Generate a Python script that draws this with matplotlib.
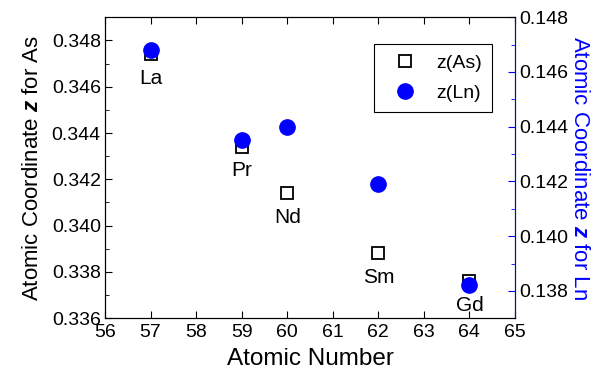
import matplotlib.pyplot as plt
from matplotlib.ticker import MultipleLocator

plt.rcParams['font.family'] = ['Liberation Sans', 'DejaVu Sans']
plt.rcParams['mathtext.fontset'] = 'custom'
plt.rcParams['mathtext.bf'] = 'Liberation Sans:bold:italic'

# data
elements = ["La", "Pr", "Nd", "Sm", "Gd"]
atomic_number = [57, 59, 60, 62, 64]
z_as = [0.3474, 0.3434, 0.3414, 0.3388, 0.3376]
z_ln = [0.1468, 0.1435, 0.1440, 0.1419, 0.1382]

fig = plt.figure(figsize=(5.95, 3.83), dpi=100)
ax1 = fig.add_axes([0.1765, 0.169, 0.689, 0.786])
ax2 = ax1.twinx()

l1, = ax1.plot(atomic_number, z_as, ls='none', marker='s', ms=8.5,
               mfc='white', mec='black', mew=1.3, label="z(As)")
l2, = ax2.plot(atomic_number, z_ln, ls='none', marker='o', ms=11,
               mfc='blue', mec='blue', label="z(Ln)")
ax2.set_zorder(ax1.get_zorder() + 1)

for x, y, name in zip(atomic_number, z_as, elements):
    ax1.annotate(name, (x, y), xytext=(0, -24), textcoords='offset pixels',
                 ha='center', va='center', fontsize=15)

ax1.set_xlim(56, 65)
ax1.set_ylim(0.336, 0.349)
ax2.set_ylim(0.137, 0.148)

ax1.xaxis.set_major_locator(MultipleLocator(1))
ax1.yaxis.set_major_locator(MultipleLocator(0.002))
ax1.yaxis.set_minor_locator(MultipleLocator(0.001))
ax2.yaxis.set_major_locator(MultipleLocator(0.002))
ax2.yaxis.set_minor_locator(MultipleLocator(0.001))
ax1.yaxis.set_major_formatter(plt.FormatStrFormatter('%.3f'))
ax2.yaxis.set_major_formatter(plt.FormatStrFormatter('%.3f'))

ax1.tick_params(axis='both', which='both', direction='in', labelsize=14, pad=3)
ax1.tick_params(axis='x', top=True, length=5, pad=4)
ax1.tick_params(axis='y', which='major', length=5)
ax1.tick_params(axis='y', which='minor', length=3)
ax2.tick_params(axis='y', which='both', direction='in', colors='blue',
                labelcolor='black', labelsize=14, pad=3)
ax2.tick_params(axis='y', which='major', length=5)
ax2.tick_params(axis='y', which='minor', length=3)
ax2.spines['right'].set_color('blue')

ax1.set_xlabel("Atomic Number", fontsize=17.5, labelpad=5)
ax1.set_ylabel(r"Atomic Coordinate $\mathbf{z}$ for As", fontsize=16, labelpad=6)
ax2.set_ylabel(r"Atomic Coordinate $\mathbf{z}$ for Ln", fontsize=16,
               color='blue', rotation=270, labelpad=16)

leg = ax2.legend(handles=[l1, l2], loc='upper right',
                 bbox_to_anchor=(0.944, 0.91), fontsize=14,
                 fancybox=False, edgecolor='black', framealpha=1,
                 handletextpad=0.5, borderpad=0.5, labelspacing=0.65,
                 handlelength=2.2, borderaxespad=0)
leg.get_frame().set_linewidth(0.8)

fig.savefig("out.png", dpi=100)
